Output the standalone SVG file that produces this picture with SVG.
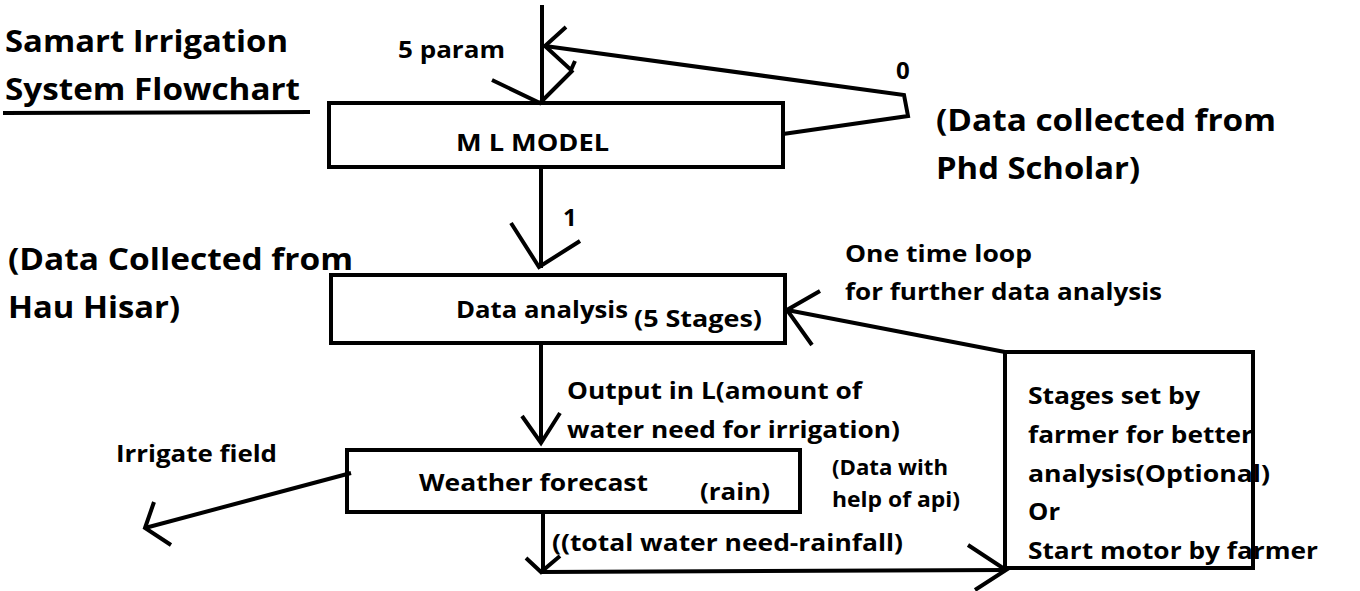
<svg xmlns="http://www.w3.org/2000/svg" width="1360" height="591" viewBox="0 0 1360 591">
<style>
.t{font-family:"Open Sans","Liberation Sans",sans-serif;font-weight:bold;fill:#000}
.big{font-size:31px}
.mid{font-size:24px}
.sm{font-size:21px}
.box{fill:none;stroke:#000;stroke-width:4}
.ln{fill:none;stroke:#000;stroke-width:4;stroke-linejoin:miter;stroke-linecap:butt}
</style>
<rect width="1360" height="591" fill="#fff"/>
<g id="title">
<text class="t big" x="5" y="52" textLength="283" lengthAdjust="spacingAndGlyphs">Samart Irrigation</text>
<text class="t big" x="5" y="100" textLength="295" lengthAdjust="spacingAndGlyphs">System Flowchart</text>
<path class="ln" d="M3,113 L310,112" stroke-linecap="round"/>
</g>
<g id="note-phd">
<text class="t big" x="936" y="131" textLength="340" lengthAdjust="spacingAndGlyphs">(Data collected from</text>
<text class="t big" x="936" y="179" textLength="204" lengthAdjust="spacingAndGlyphs">Phd Scholar)</text>
</g>
<g id="note-hau">
<text class="t big" x="8" y="270" textLength="345" lengthAdjust="spacingAndGlyphs">(Data Collected from</text>
<text class="t big" x="8" y="318" textLength="172" lengthAdjust="spacingAndGlyphs">Hau Hisar)</text>
</g>
<g id="ml-model">
<rect class="box" x="329" y="103" width="454" height="64"/>
<text class="t mid" x="456" y="151" textLength="153" lengthAdjust="spacingAndGlyphs">M L MODEL</text>
</g>
<g id="data-analysis">
<rect class="box" x="331" y="275" width="454" height="68"/>
<text class="t mid" x="456" y="318" textLength="172" lengthAdjust="spacingAndGlyphs">Data analysis</text>
<text class="t mid" x="634" y="327" textLength="128" lengthAdjust="spacingAndGlyphs">(5 Stages)</text>
</g>
<g id="weather">
<rect class="box" x="347" y="450" width="453" height="62"/>
<text class="t mid" x="419" y="491" textLength="229" lengthAdjust="spacingAndGlyphs">Weather forecast</text>
<text class="t mid" x="700" y="500" textLength="70" lengthAdjust="spacingAndGlyphs">(rain)</text>
</g>
<g id="stages">
<rect class="box" x="1005" y="352" width="248" height="216"/>
<text class="t mid" x="1028" y="404" textLength="172" lengthAdjust="spacingAndGlyphs">Stages set by</text>
<text class="t mid" x="1028" y="443" textLength="225" lengthAdjust="spacingAndGlyphs">farmer for better</text>
<text class="t mid" x="1028" y="482" textLength="242" lengthAdjust="spacingAndGlyphs">analysis(Optional)</text>
<text class="t mid" x="1028" y="520" textLength="32" lengthAdjust="spacingAndGlyphs">Or</text>
<text class="t mid" x="1028" y="559" textLength="290" lengthAdjust="spacingAndGlyphs">Start motor by farmer</text>
</g>
<g id="connectors">
<path class="ln" d="M542,5 L542,103"/>
<path class="ln" d="M492,80 L540,103 L573,70"/>
<path class="ln" d="M783,134 L908,116 L904,95 L545,46"/>
<path class="ln" d="M566,27 L545,46 L571,70 L575,61"/>
<path class="ln" d="M541,167 L541,268"/>
<path class="ln" d="M511,223 L539,267 L580,241"/>
<path class="ln" d="M541,343 L541,443"/>
<path class="ln" d="M522,416 L541,443 L560,413"/>
<path class="ln" d="M351,473 L145,528"/>
<path class="ln" d="M154,502 L145,528 L171,545"/>
<path class="ln" d="M543,512 L543,572"/>
<path class="ln" d="M526,558 L541,572 L560,556"/>
<path class="ln" d="M541,572 L1006,570"/>
<path class="ln" d="M968,545 L1006,570 L975,590"/>
<path class="ln" d="M1005,352 L787,310"/>
<path class="ln" d="M820,291 L787,310 L812,345"/>
</g>
<g id="labels">
<text class="t mid" x="398" y="58" textLength="107" lengthAdjust="spacingAndGlyphs">5 param</text>
<text class="t mid" x="896" y="79">0</text>
<text class="t mid" x="563" y="226">1</text>
<text class="t mid" x="845" y="262" textLength="187" lengthAdjust="spacingAndGlyphs">One time loop</text>
<text class="t mid" x="845" y="300" textLength="317" lengthAdjust="spacingAndGlyphs">for further data analysis</text>
<text class="t mid" x="567" y="399" textLength="295" lengthAdjust="spacingAndGlyphs">Output in L(amount of</text>
<text class="t mid" x="567" y="438" textLength="333" lengthAdjust="spacingAndGlyphs">water need for irrigation)</text>
<text class="t mid" x="116" y="462" textLength="161" lengthAdjust="spacingAndGlyphs">Irrigate field</text>
<text class="t sm" x="832" y="475" textLength="116" lengthAdjust="spacingAndGlyphs">(Data with</text>
<text class="t sm" x="832" y="507" textLength="128" lengthAdjust="spacingAndGlyphs">help of api)</text>
<text class="t mid" x="552" y="551" textLength="351" lengthAdjust="spacingAndGlyphs">((total water need-rainfall)</text>
</g>
</svg>
